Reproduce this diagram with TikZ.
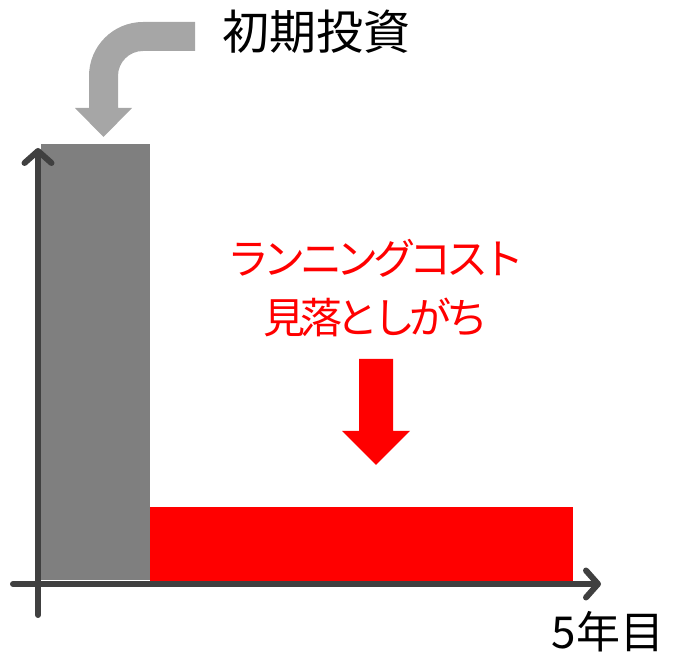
\documentclass[tikz,border=0pt]{standalone}
\usepackage{fontspec}
\setmainfont{Noto Sans CJK JP}
\usetikzlibrary{positioning,arrows.meta}
\definecolor{axisgray}{HTML}{404040}
\definecolor{bargray}{HTML}{7F7F7F}
\definecolor{arrowgray}{HTML}{A6A6A6}

\begin{document}
\begin{tikzpicture}[x=1pt,y=1pt,
bar/.style={rectangle,inner sep=0pt,anchor=south west},
axis/.style={draw=axisgray,line width=6pt,line cap=round},
tip/.style={-{Straight Barb[length=12pt,width=27pt,line cap=round,round]}},
label/.style={inner sep=0pt,align=center}]
\useasboundingbox (0,0) rectangle (673,656);

% bars
\node (initbar) [bar,fill=bargray,minimum width=109pt,minimum height=436pt] at (41,76) {};
\node (runbar) [bar,fill=red,minimum width=423pt,minimum height=74pt] at (150,75) {};

% axes
\coordinate (origin) at (38,72);
\coordinate (ytop) at (38,508);
\coordinate (ybot) at (38,41);
\coordinate (xleft) at (13,72);
\coordinate (xright) at (601,72);
\draw [axis] (xleft) -- (origin);
\draw [axis,tip] (origin) -- (xright);
\draw [axis] (ybot) -- (origin);
\draw [axis,tip] (origin) -- (ytop);

% texts
\node (initcost) [label,font=\fontsize{47}{50}\selectfont] at (316,624) {初期投資};
\node (runcost) [label,text=red,
    font=\fontsize{42}{59}\selectfont\addfontfeature{LetterSpace=-13}]
    at (376,368) {ランニングコスト\\見落としがち};
\node (years) [label,font=\fontsize{44}{46}\selectfont] at (608,24) {5年目};

% curved arrow from the first label down to the grey bar
\fill [arrowgray] (195,634) -- (143,634) arc[start angle=90,end angle=180,radius=54]
    -- (89,548) -- (75,548) -- (103.5,519) -- (132,548) -- (118,548) -- (118,580)
    arc[start angle=180,end angle=90,radius=25] -- (195,605) -- cycle;

% red arrow down to the red bar
\fill [red] (359,297) -- (393,297) -- (393,225) -- (410,225) -- (376,191)
    -- (342,225) -- (359,225) -- cycle;
\end{tikzpicture}
\end{document}
